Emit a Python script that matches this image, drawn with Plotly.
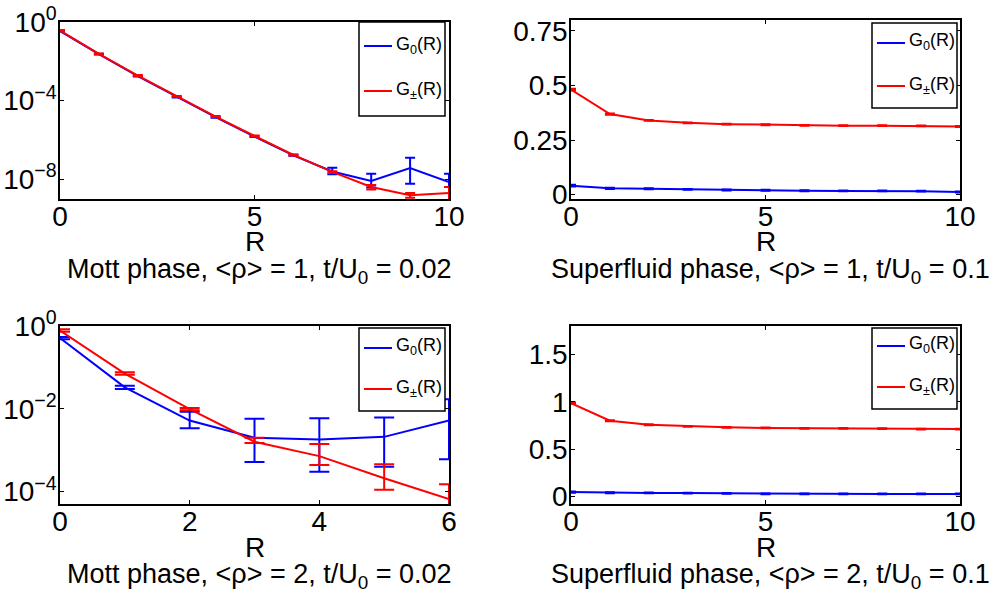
import plotly.graph_objects as go

W, H = 995, 598

# ---------------- data ----------------
R10 = [0, 1, 2, 3, 4, 5, 6, 7, 8, 9, 10]
R6 = [0, 1, 2, 3, 4, 5, 6]

# Mott phase, <rho>=1
mott1_g0 = [3.5e-1, 2.3e-2, 1.78e-3, 1.55e-4, 1.45e-5, 1.5e-6, 1.66e-7, 2.5e-8, 8.3e-9, 3.7e-8, 7.2e-9]
mott1_g0_ep = [1.5e-2, 1.0e-3, 8e-5, 8e-6, 8e-7, 8e-8, 1e-8, 1.4e-8, 1.1e-8, 8.9e-8, 1.2e-8]
mott1_g0_em = [1.5e-2, 1.0e-3, 8e-5, 8e-6, 8e-7, 8e-8, 1e-8, 0.7e-8, 4.5e-9, 3.1e-8, 7.1e-9]
mott1_gpm = [3.7e-1, 2.4e-2, 1.9e-3, 1.65e-4, 1.55e-5, 1.6e-6, 1.75e-7, 2.4e-8, 4.1e-9, 1.55e-9, 2.0e-9]
mott1_gpm_ep = [1.8e-2, 1.2e-3, 9e-5, 9e-6, 9e-7, 9e-8, 1e-8, 2e-9, 1.1e-9, 0.45e-9, 2.1e-9]
mott1_gpm_em = [1.8e-2, 1.2e-3, 9e-5, 9e-6, 9e-7, 9e-8, 1e-8, 2e-9, 1.1e-9, 0.4e-9, 1.95e-9]

# Superfluid phase, <rho>=1
sf1_g0 = [0.041, 0.029, 0.027, 0.024, 0.021, 0.020, 0.018, 0.017, 0.017, 0.016, 0.012]
sf1_gpm = [0.481, 0.369, 0.340, 0.329, 0.323, 0.320, 0.317, 0.316, 0.316, 0.315, 0.312]
sf1_err = [0.004, 0.003, 0.002, 0.002, 0.002, 0.002, 0.002, 0.002, 0.002, 0.002, 0.002]

# Mott phase, <rho>=2
mott2_g0 = [0.51, 0.033, 5.2e-3, 2.0e-3, 1.8e-3, 2.1e-3, 5.2e-3]
mott2_g0_ep = [0.03, 3e-3, 3.3e-3, 3.75e-3, 4.1e-3, 4.1e-3, 1.18e-2]
mott2_g0_em = [0.03, 3e-3, 1.8e-3, 1.48e-3, 1.5e-3, 1.7e-3, 4.6e-3]
mott2_gpm = [0.78, 0.071, 9.8e-3, 1.6e-3, 7.2e-4, 2.1e-4, 6.6e-5]
mott2_gpm_ep = [0.05, 5e-3, 6e-4, 4e-4, 6.9e-4, 2.5e-4, 8.4e-5]
mott2_gpm_em = [0.05, 5e-3, 6e-4, 1e-4, 2.8e-4, 1.0e-4, 6.0e-5]

# Superfluid phase, <rho>=2
sf2_g0 = [0.046, 0.039, 0.037, 0.036, 0.033, 0.028, 0.027, 0.027, 0.026, 0.026, 0.026]
sf2_gpm = [0.985, 0.800, 0.757, 0.740, 0.730, 0.723, 0.720, 0.720, 0.715, 0.712, 0.712]
sf2_err = [0.006, 0.005, 0.004, 0.004, 0.004, 0.004, 0.004, 0.004, 0.004, 0.004, 0.004]

titles = [
    "Mott phase, &lt;ρ&gt; = 1, t/U<sub>0</sub> = 0.02",
    "Superfluid phase, &lt;ρ&gt; = 1, t/U<sub>0</sub> = 0.1",
    "Mott phase, &lt;ρ&gt; = 2, t/U<sub>0</sub> = 0.02",
    "Superfluid phase, &lt;ρ&gt; = 2, t/U<sub>0</sub> = 0.1",
]
legend_labels = ["G<sub>0</sub>(R)", "G<sub>±</sub>(R)"]

BLUE = "#0000FF"
RED = "#FF0000"
FONT = "Liberation Sans, Arial, sans-serif"

# ---------------- layout helpers ----------------
def px(x):
    return x / W

def py(y):
    return 1 - y / H

# pixel boxes of the four axes: (left, right, top, bottom)
boxes = [(60, 449, 22, 199), (571, 960, 20, 199), (60, 449, 326, 504), (571, 960, 326, 504)]

fig = go.Figure()

def add_series(i, x, y, ep, em, color, cap):
    xa = "x" if i == 0 else f"x{i+1}"
    ya = "y" if i == 0 else f"y{i+1}"
    fig.add_trace(go.Scatter(
        x=x, y=y, mode="lines", xaxis=xa, yaxis=ya,
        line=dict(color=color, width=2),
        error_y=dict(type="data", array=ep, arrayminus=em, symmetric=False,
                     color=color, thickness=2, width=cap),
        showlegend=False,
    ))

add_series(0, R10, mott1_g0, mott1_g0_ep, mott1_g0_em, BLUE, 5)
add_series(0, R10, mott1_gpm, mott1_gpm_ep, mott1_gpm_em, RED, 5)
add_series(1, R10, sf1_g0, sf1_err, sf1_err, BLUE, 5)
add_series(1, R10, sf1_gpm, sf1_err, sf1_err, RED, 5)
add_series(2, R6, mott2_g0, mott2_g0_ep, mott2_g0_em, BLUE, 10)
add_series(2, R6, mott2_gpm, mott2_gpm_ep, mott2_gpm_em, RED, 10)
add_series(3, R10, sf2_g0, sf2_err, sf2_err, BLUE, 5)
add_series(3, R10, sf2_gpm, sf2_err, sf2_err, RED, 5)

axis_common = dict(
    showline=True, linecolor="black", linewidth=1.5, mirror="ticks",
    ticks="inside", ticklen=4, tickcolor="black", tickwidth=1,
    showgrid=False, zeroline=False, automargin=False,
    tickfont=dict(family=FONT, size=28, color="black"),
)

layout = dict(
    width=W, height=H, margin=dict(l=0, r=0, t=0, b=0, autoexpand=False),
    paper_bgcolor="white", plot_bgcolor="white",
    font=dict(family=FONT, color="black"),
    showlegend=False,
)

x_ranges = [[0, 10], [0, 10], [0, 6], [0, 10]]
x_ticks = [[0, 5, 10], [0, 5, 10], [0, 2, 4, 6], [0, 5, 10]]

for i, (l, r, t, b) in enumerate(boxes):
    xk = "xaxis" if i == 0 else f"xaxis{i+1}"
    yk = "yaxis" if i == 0 else f"yaxis{i+1}"
    anchor_y = "y" if i == 0 else f"y{i+1}"
    anchor_x = "x" if i == 0 else f"x{i+1}"
    layout[xk] = dict(axis_common, domain=[px(l), px(r)], anchor=anchor_y,
                      range=x_ranges[i], tickvals=x_ticks[i], ticklabelstandoff=-8)
    layout[yk] = dict(axis_common, domain=[py(b), py(t)], anchor=anchor_x, ticklabelstandoff=-4)

layout["yaxis"].update(type="log", range=[-9, 0], tickvals=[1, 1e-4, 1e-8],
                       ticktext=["10<sup>0</sup>", "10<sup>−4</sup>", "10<sup>−8</sup>"])
layout["yaxis2"].update(range=[-0.02, 0.8], tickvals=[0, 0.25, 0.5, 0.75],
                        ticktext=["0", "0.25", "0.5", "0.75"])
layout["yaxis3"].update(type="log", range=[-4.3, 0], tickvals=[1, 1e-2, 1e-4],
                        ticktext=["10<sup>0</sup>", "10<sup>−2</sup>", "10<sup>−4</sup>"])
layout["yaxis4"].update(range=[-0.08, 1.8], tickvals=[0, 0.5, 1, 1.5],
                        ticktext=["0", "0.5", "1", "1.5"])

fig.update_layout(**layout)

annotations = []
shapes = []

# axis labels and panel captions
for i, (l, r, t, b) in enumerate(boxes):
    cx = (l + r) / 2
    annotations.append(dict(text="R", x=px(cx), y=py(b + 43), xref="paper", yref="paper",
                            showarrow=False, xanchor="center", yanchor="middle",
                            font=dict(family=FONT, size=28, color="black")))
    annotations.append(dict(text=titles[i], x=px(cx + 5), y=py(b + 72), xref="paper", yref="paper",
                            showarrow=False, xanchor="center", yanchor="middle",
                            font=dict(family=FONT, size=27, color="black")))

# legend boxes
legend_boxes = [(359, 445, 22, 116, 46, 91), (872, 957, 23, 108, 43, 86),
                (359, 445, 328, 411, 348, 389), (872, 957, 328, 409, 346, 387)]
for (l, r, t, b, y1, y2) in legend_boxes:
    shapes.append(dict(type="rect", xref="paper", yref="paper",
                       x0=px(l), x1=px(r), y0=py(b), y1=py(t),
                       line=dict(color="black", width=1.5), fillcolor="white", layer="above"))
    for yy, col, lab in [(y1, BLUE, legend_labels[0]), (y2, RED, legend_labels[1])]:
        shapes.append(dict(type="line", xref="paper", yref="paper",
                           x0=px(l + 5), x1=px(l + 33), y0=py(yy), y1=py(yy),
                           line=dict(color=col, width=2), layer="above"))
        annotations.append(dict(text=lab, x=px(l + 35), y=py(yy - 1), xref="paper", yref="paper",
                                showarrow=False, xanchor="left", yanchor="middle",
                                font=dict(family=FONT, size=18, color="black")))

fig.update_layout(annotations=annotations, shapes=shapes)

fig.write_html("out.html")
